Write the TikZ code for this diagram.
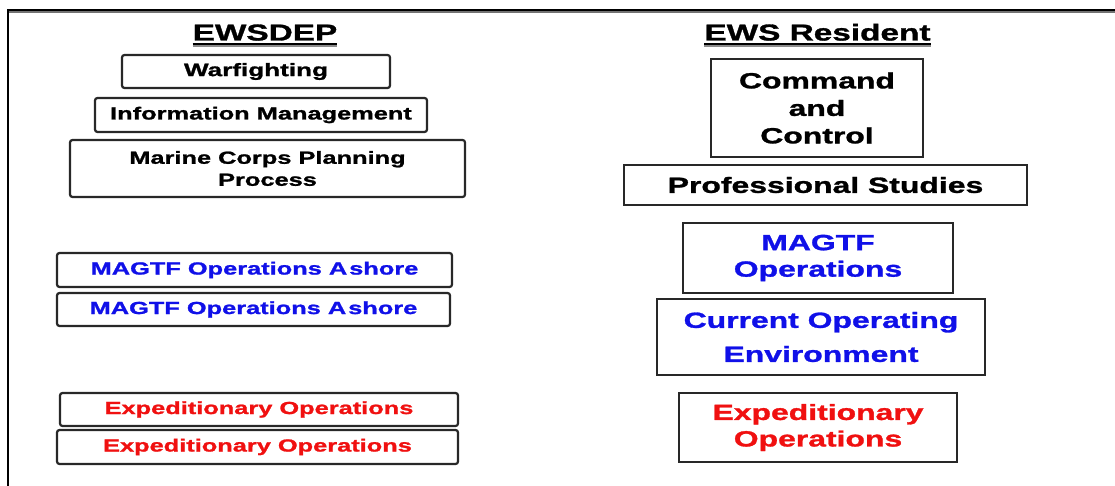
\documentclass[tikz,border=0pt]{standalone}
\usepackage{fontspec}
\newfontfamily\dfont{Liberation Sans}[FakeStretch=1.45,BoldFeatures={FakeBold=1.3}]
\definecolor{txtblue}{RGB}{16,16,232}
\definecolor{txtred}{RGB}{240,16,16}
\definecolor{edge}{RGB}{40,40,40}
\begin{document}
\begin{tikzpicture}[x=1pt,y=-1pt,
  box/.style={draw=edge,line width=2.2pt,fill=white,inner sep=0pt,align=center,
    minimum width=#1},
  lbox/.style={box=#1,rounded corners=2.5pt},
  fs/.style={font=\dfont\bfseries\fontsize{#1}{#1}\selectfont},
  title/.style={font=\dfont\bfseries\fontsize{23}{23}\selectfont,inner sep=0pt,anchor=base},
  uline/.style={line width=2pt,black},
  ushade/.style={line width=1.3pt,black!45},
]
\useasboundingbox (0,0) rectangle (1115,486);

% outer frame: top and left rules only
\draw[line width=1.4pt,black!55] (8.5,486) -- (8.5,12) -- (1115,12);
\draw[line width=2pt,black] (8,486) -- (8,10) -- (1115,10);

% column titles
\node[title] (t1) at (265,40.5) {EWSDEP};
\node[title] (t2) at (817.5,40.5) {EWS Resident};
\foreach \t in {t1,t2}{
  \draw[ushade] ([yshift=-5.5pt]\t.base west) -- ([yshift=-5.5pt]\t.base east);
  \draw[uline] ([yshift=-3.5pt]\t.base west) -- ([yshift=-3.5pt]\t.base east);
}

% EWSDEP column
\node[lbox=268pt,minimum height=33pt,fs=18] (warf) at (256,71.5) {Warfighting};
\node[lbox=332pt,minimum height=34pt,fs=17.5] (info) at (261,115) {Information Management};
\node[lbox=395pt,minimum height=57pt,font=\dfont\bfseries\fontsize{17.5}{22}\selectfont]
  (mcpp) at (267.5,168.5) {Marine Corps Planning\\Process};
\node[lbox=395pt,minimum height=34pt,fs=17.5,text=txtblue] (mg1) at (254.5,270)
  {MAGTF Operations A\kern2pt shore};
\node[lbox=393pt,minimum height=33pt,fs=17.5,text=txtblue] (mg2) at (253.5,309.5)
  {MAGTF Operations A\kern2pt shore};
\node[lbox=398pt,minimum height=33pt,fs=17.5,text=txtred] (ex1) at (259,409.5)
  {Expeditionary Operations};
\node[lbox=401pt,minimum height=34pt,fs=17.5,text=txtred] (ex2) at (257.5,447)
  {Expeditionary Operations};

% EWS Resident column
\node[box=212pt,minimum height=98pt,font=\dfont\bfseries\fontsize{22}{27.5}\selectfont]
  (cc) at (817,108) {Command\\and\\Control};
\node[box=403pt,minimum height=40pt,fs=22] (prof) at (825.5,185) {Professional Studies};
\node[box=270pt,minimum height=70pt,text=txtblue,font=\dfont\bfseries\fontsize{22}{26.5}\selectfont]
  (mag) at (818,258) {MAGTF\\Operations};
\node[box=328pt,minimum height=76pt,text=txtblue,font=\dfont\bfseries\fontsize{22}{34}\selectfont]
  (coe) at (821,337) {Current Operating\\Environment};
\node[box=278pt,minimum height=69pt,text=txtred,font=\dfont\bfseries\fontsize{22}{26.5}\selectfont]
  (exr) at (818,427.5) {Expeditionary\\Operations};
\end{tikzpicture}
\end{document}
